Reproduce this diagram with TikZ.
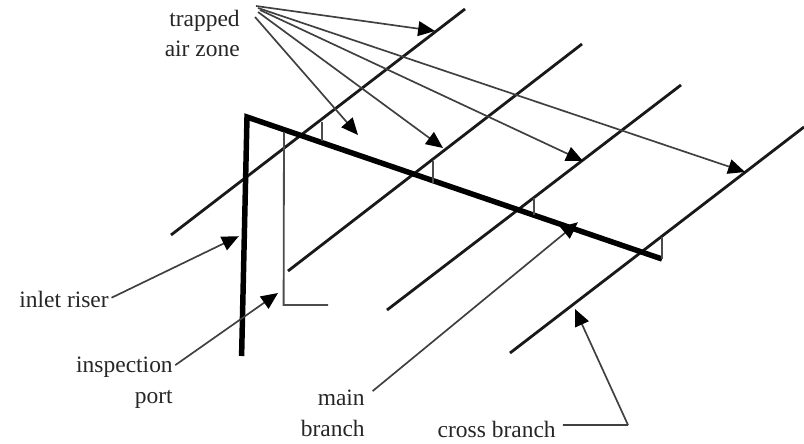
\documentclass[tikz,border=0pt]{standalone}
\usepackage{fontspec}
\setmainfont{Liberation Serif}
\usepackage{xcolor}
\usetikzlibrary{arrows.meta,calc}

\tikzset{
  label/.style={inner sep=0pt, anchor=base east, text=black!85},
  riser/.style={black, line width=3.9pt},
  cross/.style={black!90, line width=2.0pt},
  thinline/.style={black!70, line width=1.3pt},
  pointer/.style={black!75, line width=1.2pt, shorten <=2pt,
    -{Triangle[length=12pt, width=10.5pt, black]}}
}

\begin{document}
\begin{tikzpicture}[font=\fontsize{16.7}{20}\selectfont]
\useasboundingbox (0,0) rectangle (20.1,11.075);
% piping
\coordinate (corner) at (6.175,8.15);
\coordinate (riserend) at (6.04,2.175);
\coordinate (mainend) at (16.55,4.6);
\draw[cross] (4.275,5.2) -- (11.625,10.85);
\draw[cross] (7.2,4.3) -- (14.55,9.975);
\draw[cross] (9.675,3.325) -- (17.025,8.95);
\draw[cross] (12.75,2.25) -- (20.1,7.9);
\draw[riser, line join=miter] (riserend) -- (corner) -- (mainend);
% port and small ticks
\draw[thinline] (7.1,7.775) -- (7.09,3.45) -- (8.2,3.45);
\draw[thinline] (8.05,8.025) -- (8.05,7.55);
\draw[thinline] (10.825,7.05) -- (10.825,6.5);
\draw[thinline] (13.35,6.125) -- (13.35,5.7);
\draw[thinline, line width=1.6pt] (16.55,5.15) -- (16.55,4.6);
% labels
\node[label] (trapped) at (6.0,10.4) {trapped};
\node[label] (airzone) at (6.0,9.65) {air zone};
\node[label] (inlet) at (2.725,3.4) {inlet riser};
\node[label] (inspection) at (4.325,1.775) {inspection};
\node[label] (port) at (4.325,1.0) {port};
\node[label] (main) at (9.125,0.95) {main};
\node[label] (branch) at (9.125,0.175) {branch};
\node[label] (crossbranch) at (13.9,0.15) {cross branch};
% trapped air zone pointers
\coordinate (fana) at (6.4,10.925);
\coordinate (fanb) at (6.375,10.65);
\coordinate (fanc) at (6.45,10.775);
\coordinate (fand) at (6.5,10.825);
\coordinate (fane) at (6.45,10.875);
\coordinate (tipa) at (10.875,10.3);
\coordinate (tipb) at (8.95,7.7);
\coordinate (tipc) at (11.075,7.375);
\coordinate (tipd) at (14.575,7.05);
\coordinate (tipe) at (18.625,6.775);
\foreach \from/\tip in {fana/tipa,fanb/tipb,fanc/tipc,fand/tipd,fane/tipe}
  \draw[pointer, shorten <=0pt] (\from) -- (\tip);
% other pointers
\coordinate (tipriser) at (5.97,5.17);
\coordinate (tipport) at (6.95,3.75);
\coordinate (tipmain) at (14.45,5.52);
\coordinate (tipcross) at (14.375,3.35);
\coordinate (elbow) at (15.7,0.45);
\draw[pointer] (inlet.east) -- (tipriser);
\draw[pointer] (inspection.east) -- (tipport);
\draw[pointer, shorten <=7pt] (main.east) -- (tipmain);
\draw[black!75, line width=1.2pt] ($(crossbranch.east)+(0.17,0.1)$) -- (elbow);
\draw[pointer, shorten <=0pt] (elbow) -- (tipcross);
\end{tikzpicture}
\end{document}
